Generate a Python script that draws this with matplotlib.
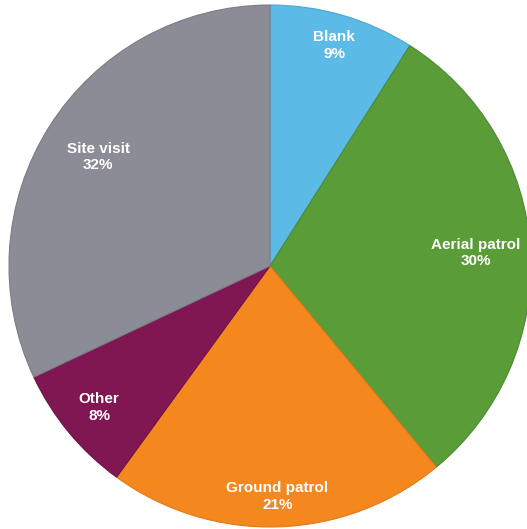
import matplotlib.pyplot as plt
import numpy as np

labels = ["Blank", "Aerial patrol", "Ground patrol", "Other", "Site visit"]
values = [9, 30, 21, 8, 32]
colors = ["#5BBAE6", "#599C38", "#F5871F", "#801652", "#8C8C96"]
edge_colors = ["#4FA6D0", "#4E8A30", "#E07A18", "#6E1246", "#7C7C86"]
label_dist = [0.88, 0.79, 0.885, 0.85, 0.78]

plt.rcParams["font.family"] = ["Liberation Sans", "DejaVu Sans"]

fig = plt.figure(figsize=(5.27, 5.29), dpi=100)
W, H = 527, 529
cx, cy, r = 270, 529 - 266, 261
ax = fig.add_axes([(cx - r) / W, (cy - r) / H, 2 * r / W, 2 * r / H])

wedges, _ = ax.pie(
    values,
    colors=colors,
    startangle=90,
    counterclock=False,
    radius=1.0,
    wedgeprops=dict(linewidth=0.8),
)
for w, ec in zip(wedges, edge_colors):
    w.set_edgecolor(ec)
    w.set_clip_on(False)

for w, lab, v, d in zip(wedges, labels, values, label_dist):
    ang = np.deg2rad((w.theta1 + w.theta2) / 2)
    ax.text(
        d * np.cos(ang),
        d * np.sin(ang),
        f"{lab}\n{v}%",
        ha="center",
        va="center",
        color="white",
        fontsize=11,
        fontweight="bold",
        linespacing=1.25,
    )

ax.set_xlim(-1, 1)
ax.set_ylim(-1, 1)
ax.set_aspect("auto")
ax.axis("off")

fig.savefig("out.png", dpi=100)
